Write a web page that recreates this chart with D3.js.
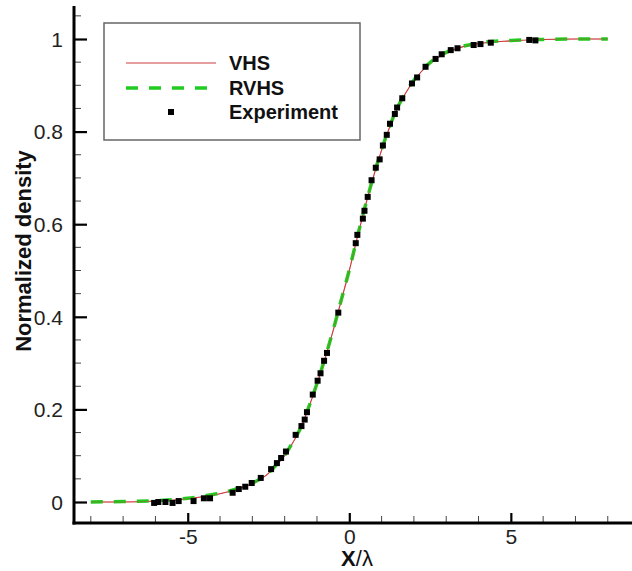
<!DOCTYPE html>
<html>
<head>
<meta charset="utf-8">
<script src="https://cdn.jsdelivr.net/npm/d3@7"></script>
<style>
  html, body { margin: 0; padding: 0; background: #fff; }
  svg { display: block; }
  text { font-family: "Liberation Sans", Arial, Helvetica, sans-serif; }
</style>
</head>
<body>
<svg id="chart" width="632" height="571"></svg>
<script>
// ---------- data ----------
const vhsX = [-8, -7, -6, -5, -4.5, -4, -3.5, -3, -2.5, -2.25, -2, -1.75, -1.5, -1.25, -1, -0.75, -0.5, -0.25, 0, 0.25, 0.5, 0.75, 1, 1.25, 1.5, 1.75, 2, 2.5, 3, 3.5, 4, 5, 6, 7, 8];
const vhsY = [0.000, 0.000, 0.002, 0.007, 0.012, 0.018, 0.027, 0.040, 0.062, 0.080, 0.100, 0.128, 0.160, 0.205, 0.255, 0.310, 0.370, 0.435, 0.500, 0.572, 0.640, 0.703, 0.760, 0.810, 0.852, 0.884, 0.910, 0.948, 0.970, 0.983, 0.990, 0.996, 0.999, 1.000, 1.000];
const rvhsX = [-8, -7, -6, -5, -4.5, -4, -3.5, -3, -2.5, -2.25, -2, -1.75, -1.5, -1.25, -1, -0.75, -0.5, -0.25, 0, 0.25, 0.5, 0.75, 1, 1.25, 1.5, 1.75, 2, 2.5, 3, 3.5, 4, 5, 6, 7, 8];
const rvhsY = [0.000, 0.001, 0.003, 0.008, 0.013, 0.019, 0.028, 0.041, 0.063, 0.081, 0.101, 0.129, 0.161, 0.206, 0.256, 0.311, 0.371, 0.436, 0.501, 0.573, 0.641, 0.704, 0.761, 0.811, 0.853, 0.885, 0.911, 0.949, 0.971, 0.984, 0.991, 0.997, 0.999, 1.000, 1.000];
const expX = [-6.04, -5.91, -5.69, -5.47, -5.28, -4.82, -4.50, -4.31, -3.61, -3.42, -3.22, -3.02, -2.74, -2.42, -2.24, -2.11, -1.96, -1.66, -1.48, -1.38, -1.31, -1.13, -0.98, -0.89, -0.78, -0.69, -0.34, 0.20, 0.25, 0.42, 0.47, 0.57, 0.69, 0.82, 0.94, 1.04, 1.16, 1.26, 1.41, 1.48, 1.64, 1.94, 2.10, 2.36, 2.67, 2.86, 3.14, 3.35, 3.85, 4.06, 4.38, 5.57, 5.76];
const expY = [-0.002, 0.000, 0.000, -0.002, 0.002, 0.002, 0.008, 0.008, 0.020, 0.028, 0.033, 0.041, 0.052, 0.071, 0.084, 0.095, 0.109, 0.145, 0.164, 0.178, 0.194, 0.232, 0.262, 0.278, 0.305, 0.322, 0.409, 0.559, 0.577, 0.612, 0.629, 0.659, 0.695, 0.722, 0.740, 0.770, 0.793, 0.817, 0.838, 0.852, 0.872, 0.904, 0.917, 0.940, 0.957, 0.967, 0.976, 0.980, 0.987, 0.989, 0.992, 0.998, 0.997];
const xTickValues = [-5, 0, 5];
const xTickLabels = ["-5", "0", "5"];
const yTickValues = [0, 0.2, 0.4, 0.6, 0.8, 1];
const yTickLabels = ["0", "0.2", "0.4", "0.6", "0.8", "1"];
const seriesNames = ["VHS", "RVHS", "Experiment"];

// ---------- layout ----------
const svg = d3.select("#chart");
const pL = 74, pR = 632, pT = 6, pB = 523;
const x = d3.scaleLinear().domain([-8.52, 8.75]).range([pL, pR]);
const y = d3.scaleLinear().domain([0, 1]).range([502, 39]);

const redColor = "#cc3c3c";
const greenColor = "#1fcc1f";

// ---------- curves ----------
const line = d3.line().x(d => x(d[0])).y(d => y(d[1])).curve(d3.curveMonotoneX);
const vhs = vhsX.map((v, i) => [v, vhsY[i]]);
const rvhs = rvhsX.map((v, i) => [v, rvhsY[i]]);
const exp = expX.map((v, i) => [v, expY[i]]);

svg.append("path").datum(vhs).attr("d", line)
  .attr("fill", "none").attr("stroke", redColor).attr("stroke-width", 1.1);
svg.append("path").datum(rvhs).attr("d", line)
  .attr("fill", "none").attr("stroke", greenColor).attr("stroke-width", 3.5)
  .attr("stroke-dasharray", "12,11");
svg.append("path").datum(vhs).attr("d", line)
  .attr("fill", "none").attr("stroke", redColor).attr("stroke-width", 0.8).attr("opacity", 0.5);

const ms = 6;
svg.append("g").selectAll("rect").data(exp).join("rect")
  .attr("x", d => x(d[0]) - ms / 2).attr("y", d => y(d[1]) - ms / 2)
  .attr("width", ms).attr("height", ms).attr("fill", "#000");

// ---------- axes ----------
const yAxis = d3.axisRight(y).tickValues(yTickValues).tickFormat((d, i) => yTickLabels[i]).tickSize(13).tickPadding(0);
const gy = svg.append("g").attr("transform", `translate(${pL},0)`).call(yAxis);
gy.select(".domain").remove();
gy.selectAll(".tick line").attr("stroke", "#000").attr("stroke-width", 2.2);
gy.selectAll(".tick text").attr("x", -11).attr("text-anchor", "end")
  .attr("font-size", 21).attr("fill", "#222").attr("dy", "0.35em");

const yMinor = d3.range(-0.05, 1.0751, 0.05).filter(v => y(v) > pT + 2 && y(v) < pB - 3 && Math.abs(Math.round(v * 5) - v * 5) > 1e-6);
svg.append("g").selectAll("line").data(yMinor).join("line")
  .attr("x1", pL).attr("x2", pL + 7).attr("y1", d => y(d)).attr("y2", d => y(d))
  .attr("stroke", "#444").attr("stroke-width", 1);

const xAxis = d3.axisTop(x).tickValues(xTickValues).tickFormat((d, i) => xTickLabels[i]).tickSize(10);
const gx = svg.append("g").attr("transform", `translate(0,${pB})`).call(xAxis);
gx.select(".domain").remove();
gx.selectAll(".tick line").attr("stroke", "#000").attr("stroke-width", 2.2);
gx.selectAll(".tick text").attr("y", 21).attr("dy", 0).attr("font-size", 21).attr("fill", "#222");

const xMinor = d3.range(-8, 9, 1).filter(v => xTickValues.indexOf(v) < 0);
svg.append("g").selectAll("line").data(xMinor).join("line")
  .attr("x1", d => x(d)).attr("x2", d => x(d)).attr("y1", pB).attr("y2", pB - 7)
  .attr("stroke", "#444").attr("stroke-width", 1);

svg.append("line").attr("x1", pL).attr("x2", pL).attr("y1", pT).attr("y2", pB + 1.5)
  .attr("stroke", "#000").attr("stroke-width", 3);
svg.append("line").attr("x1", pL - 1.5).attr("x2", pR).attr("y1", pB).attr("y2", pB)
  .attr("stroke", "#000").attr("stroke-width", 3);

// ---------- axis titles ----------
const xt = svg.append("text").attr("x", 357).attr("y", 566).attr("text-anchor", "middle")
  .attr("font-size", 22).attr("fill", "#111");
xt.append("tspan").attr("font-weight", "bold").text("X");
xt.append("tspan").text("/λ");

svg.append("text").attr("transform", "translate(31,251) rotate(-90)")
  .attr("text-anchor", "middle").attr("font-size", 22).attr("font-weight", "bold")
  .attr("fill", "#111").text("Normalized density");

// ---------- legend ----------
const lg = svg.append("g");
lg.append("rect").attr("x", 104).attr("y", 23).attr("width", 256).attr("height", 117)
  .attr("fill", "#fff").attr("stroke", "#666").attr("stroke-width", 1.5);
lg.append("line").attr("x1", 126).attr("x2", 216).attr("y1", 63).attr("y2", 63)
  .attr("stroke", redColor).attr("stroke-width", 1.1);
lg.append("line").attr("x1", 126).attr("x2", 216).attr("y1", 88).attr("y2", 88)
  .attr("stroke", greenColor).attr("stroke-width", 3.5).attr("stroke-dasharray", "12,11");
lg.append("rect").attr("x", 171 - 3).attr("y", 112 - 3).attr("width", 6).attr("height", 6).attr("fill", "#000");
[63, 88, 112].forEach((yy, i) => {
  lg.append("text").attr("x", 229).attr("y", yy).attr("dy", "0.36em")
    .attr("font-size", 20).attr("font-weight", "bold").attr("fill", "#111").text(seriesNames[i]);
});
</script>
</body>
</html>
